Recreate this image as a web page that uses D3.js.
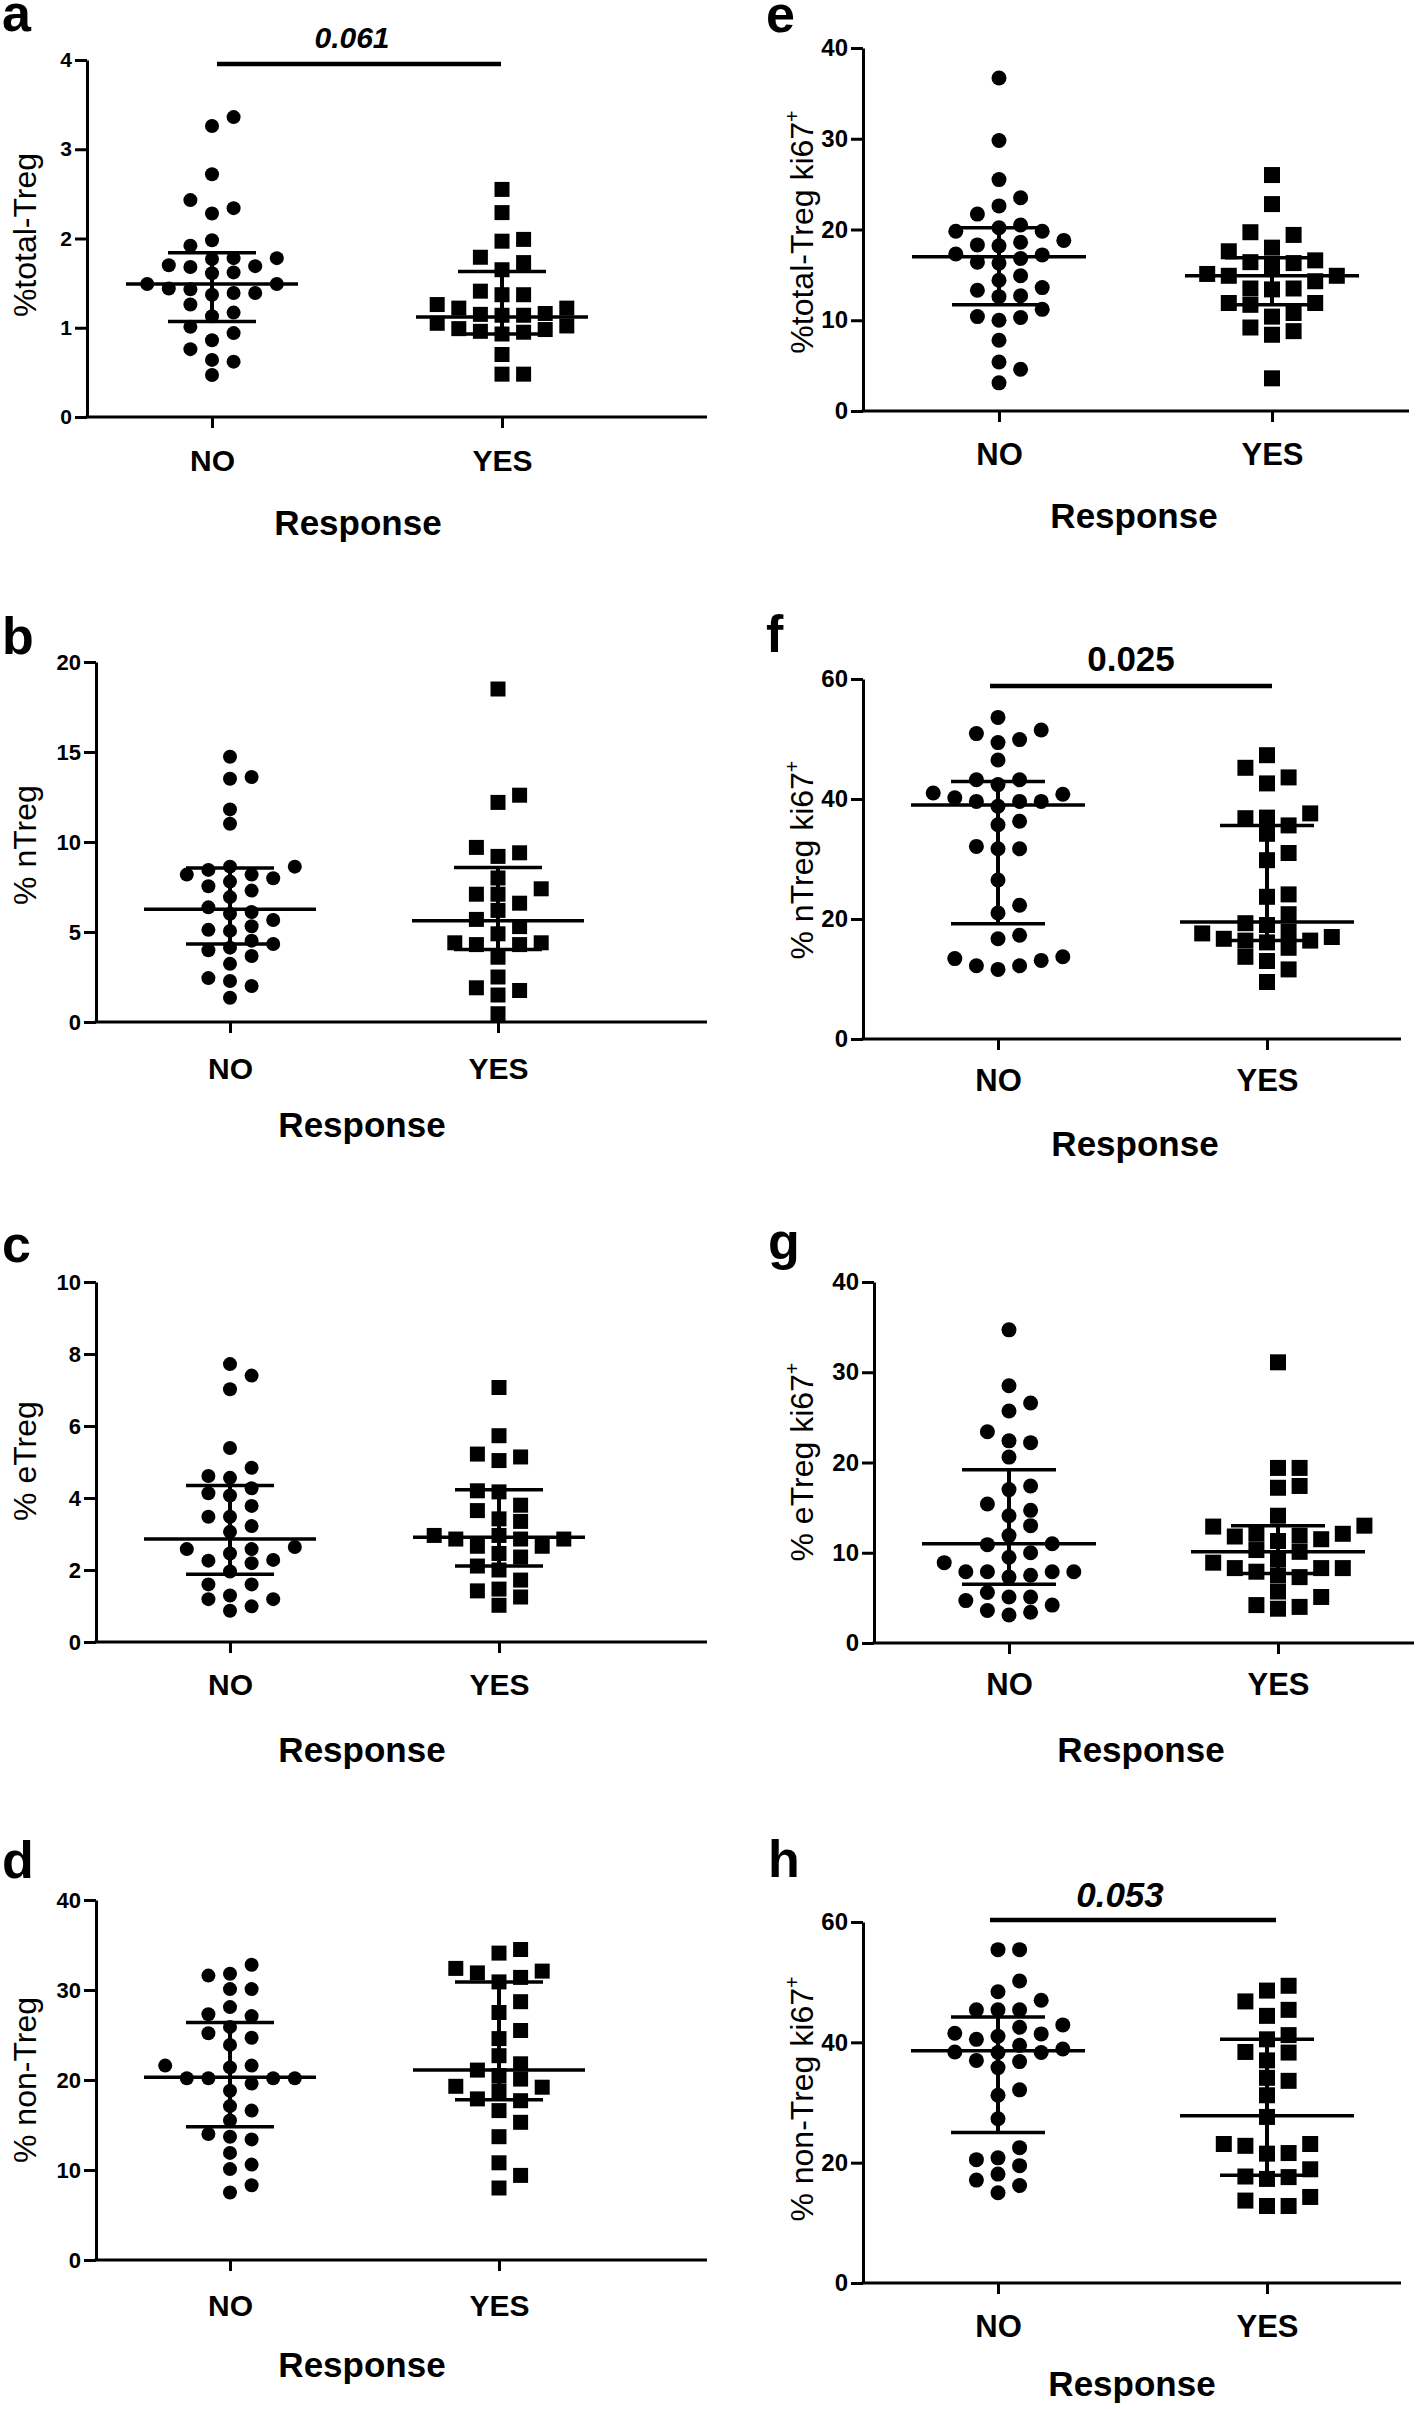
<!DOCTYPE html>
<html><head><meta charset="utf-8">
<script src="https://cdn.jsdelivr.net/npm/d3@7"></script>
<style>
body{margin:0;background:#fff}
svg{display:block}
text{font-family:"Liberation Sans",Arial,sans-serif;fill:#000}
</style>
</head><body>
<svg id="chart" width="1418" height="2409"></svg>
<script>
// ---------------- DATA ----------------
const categories = ["NO", "YES"];

// a: %total-Treg
const aNo  = [3.36,3.26,2.72,2.43,2.34,2.28,1.98,1.92,1.78,1.78,1.77,1.70,1.68,1.69,1.62,1.61,1.49,1.49,1.43,1.39,1.39,1.44,1.37,1.26,1.17,1.13,1.01,0.94,0.86,0.76,0.64,0.62,0.47];
const aYes = [2.55,2.29,1.99,1.97,1.79,1.73,1.65,1.41,1.37,1.37,1.26,1.22,1.22,1.16,1.15,1.14,1.14,1.05,1.02,0.99,0.98,0.96,0.95,0.93,0.70,0.48,0.48];
const aNoStats  = [1.07, 1.49, 1.84];   // Q1, median, Q3
const aYesStats = [0.93, 1.12, 1.63];
const aTicks = [0, 1, 2, 3, 4];

// b: % nTreg
const bNo  = [14.74,13.61,13.51,11.81,11.01,8.63,8.63,8.45,8.19,8.19,7.99,7.80,7.54,7.30,6.94,6.37,6.11,6.01,5.67,5.32,5.12,5.06,4.52,4.33,4.13,3.99,3.67,3.23,2.44,2.28,2.00,1.35];
const bYes = [18.5,12.6,12.2,9.7,9.4,9.2,8.0,7.4,7.1,7.1,6.6,6.2,5.7,5.3,4.9,4.4,4.4,4.3,4.3,3.6,2.5,1.9,1.75,1.5,0.46];
const bNoStats  = [4.33, 6.27, 8.55];
const bYesStats = [4.03, 5.62, 8.59];
const bTicks = [0, 5, 10, 15, 20];

// c: % eTreg
const cNo  = [7.72,7.40,7.02,5.39,4.84,4.61,4.56,4.27,4.13,4.07,3.78,3.48,3.48,3.22,3.06,2.64,2.58,2.58,2.46,2.28,2.26,2.19,1.96,1.60,1.60,1.29,1.19,1.19,0.99,0.87];
const cYes = [7.07,5.73,5.22,5.14,5.04,4.20,4.17,3.80,3.65,3.42,3.35,2.96,2.96,2.86,2.86,2.86,2.66,2.66,2.46,2.36,2.11,2.00,1.72,1.47,1.42,1.25,1.02];
const cNoStats  = [1.88, 2.86, 4.35];
const cYesStats = [2.11, 2.91, 4.23];
const cTicks = [0, 2, 4, 6, 8, 10];

// d: % non-Treg
const dNo  = [32.8,31.8,31.6,30.1,30.1,28.1,27.3,27.1,25.9,25.2,24.7,23.9,21.6,21.6,21.4,20.2,20.2,20.2,20.2,19.6,18.8,17.1,16.6,15.5,14.0,13.7,13.4,11.9,10.6,10.1,8.3,7.5];
const dYes = [34.5,34.1,32.4,32.1,31.9,31.4,30.9,28.7,27.5,25.5,24.6,22.7,21.8,21.1,20.5,20.1,19.3,19.2,18.8,17.9,17.7,16.6,15.3,13.7,10.8,9.4,8.0];
const dNoStats  = [14.8, 20.3, 26.4];
const dYesStats = [17.8, 21.1, 30.9];
const dTicks = [0, 10, 20, 30, 40];

// e: %total-Treg ki67+
const eNo  = [36.7,29.8,25.5,23.5,22.6,21.7,20.5,20.2,19.8,19.8,18.8,18.6,18.3,18.2,17.3,17.2,16.8,16.4,16.3,14.9,14.4,13.6,13.3,12.7,12.6,11.2,10.4,10.3,10.0,7.8,5.4,4.6,3.1];
const eYes = [26.0,22.8,19.7,19.4,18.0,17.6,16.6,16.4,16.3,15.9,15.1,14.9,14.9,14.3,13.5,13.5,13.4,11.9,11.9,11.7,10.8,10.4,9.2,8.8,8.4,3.6];
const eNoStats  = [11.7, 17.0, 20.2];
const eYesStats = [11.7, 14.9, 16.9];
const eTicks = [0, 10, 20, 30, 40];

// f: % nTreg ki67+
const fNo  = [53.6,51.5,50.9,49.9,49.4,46.5,43.2,43.2,42.4,41.0,40.8,40.2,39.6,39.6,39.6,38.8,36.3,35.7,32.1,31.7,31.7,26.5,22.3,21.0,17.3,16.7,13.7,13.4,13.1,12.2,12.2,11.6];
const fYes = [47.3,45.2,43.6,42.6,37.6,36.9,36.8,35.6,34.2,31.0,29.8,24.1,23.7,20.8,19.3,19.0,17.9,17.6,17.0,16.7,16.4,16.4,16.1,15.2,13.7,13.0,11.6,9.5];
const fNoStats  = [19.2, 39.0, 42.9];
const fYesStats = [16.4, 19.5, 35.6];
const fTicks = [0, 20, 40, 60];

// g: % eTreg ki67+
const gNo  = [34.7,28.5,26.6,25.7,23.4,22.4,22.2,20.6,17.4,17.0,15.4,14.7,14.1,13.0,11.9,11.0,10.9,10.0,9.5,8.9,7.9,7.9,7.9,7.9,7.5,7.3,5.6,5.1,5.1,4.7,4.2,3.6,3.4,3.1];
const gYes = [31.1,19.4,19.4,17.4,17.2,14.1,13.0,12.9,12.1,12.1,11.9,11.8,11.5,11.3,10.3,10.1,9.3,8.9,8.3,8.3,8.3,7.9,7.5,7.3,5.7,5.1,4.2,4.0,3.8];
const gNoStats  = [6.5, 11.0, 19.2];
const gYesStats = [7.7, 10.1, 13.0];
const gTicks = [0, 10, 20, 30, 40];

// h: % non-Treg ki67+
const hNo  = [55.4,55.4,50.2,48.4,47.0,45.4,45.4,45.4,42.9,42.5,41.5,41.4,41.0,40.5,39.5,38.9,38.4,38.3,38.3,37.0,36.8,35.8,32.1,31.2,27.3,22.5,20.8,20.5,19.5,18.1,17.1,16.2,15.0];
const hYes = [49.4,48.6,46.8,45.4,44.4,41.2,40.5,38.4,38.3,37.0,34.1,33.6,31.2,27.6,23.1,23.1,22.8,21.6,21.5,18.9,17.7,17.6,17.3,14.3,13.7,12.8,12.8];
const hNoStats  = [25.0, 38.6, 44.2];
const hYesStats = [17.9, 27.8, 40.5];
const hTicks = [0, 20, 40, 60];

const panelLetters = ["a","b","c","d","e","f","g","h"];
const yLabels = ["%total-Treg","% nTreg","% eTreg","% non-Treg","%total-Treg ki67","% nTreg ki67","% eTreg ki67","% non-Treg ki67"];
const yLabelSup = [false,false,false,false,true,true,true,true];
const pValues = ["0.061", null, null, null, null, "0.025", null, "0.053"];
const pItalic = [true, false, false, false, false, false, false, true];
const xTitle = "Response";

// ---------------- LAYOUT (positions, sizes) ----------------
const L = [
  {axisX:87, xEnd:707, yTop:60,   y0:417,  xNo:212, xYes:502, lx:2,   ly:31,   ylx:36,  yly:235,  catY:471,  rx:358,  ry:535,  tf:21, cf:30, yf:32, dia:14, sq:15, sig:{y:64,  x1:217, x2:501,  tx:352,  ty:48,  f:30}},
  {axisX:96, xEnd:707, yTop:662,  y0:1022, xNo:230, xYes:498, lx:2,   ly:654,  ylx:36,  yly:845,  catY:1079, rx:362,  ry:1137, tf:22, cf:30, yf:32, dia:14, sq:15},
  {axisX:96, xEnd:707, yTop:1282, y0:1642, xNo:230, xYes:499, lx:2,   ly:1262, ylx:36,  yly:1461, catY:1695, rx:362,  ry:1762, tf:22, cf:30, yf:32, dia:14, sq:15},
  {axisX:96, xEnd:707, yTop:1900, y0:2260, xNo:230, xYes:499, lx:2,   ly:1878, ylx:36,  yly:2080, catY:2316, rx:362,  ry:2377, tf:22, cf:30, yf:32, dia:14, sq:15},
  {axisX:863,xEnd:1409,yTop:48,   y0:411,  xNo:999, xYes:1272,lx:766, ly:32,   ylx:813, yly:232,  catY:465,  rx:1134, ry:528,  tf:24, cf:31, yf:32, dia:15, sq:16},
  {axisX:863,xEnd:1401,yTop:679,  y0:1039, xNo:998, xYes:1267,lx:766, ly:652,  ylx:813, yly:860,  catY:1091, rx:1135, ry:1156, tf:24, cf:31, yf:32, dia:15, sq:16, sig:{y:686, x1:990, x2:1272, tx:1131, ty:671, f:35}},
  {axisX:874,xEnd:1414,yTop:1282, y0:1643, xNo:1009,xYes:1278,lx:768, ly:1259, ylx:813, yly:1462, catY:1695, rx:1141, ry:1762, tf:24, cf:31, yf:32, dia:15, sq:16},
  {axisX:863,xEnd:1401,yTop:1922, y0:2283, xNo:998, xYes:1267,lx:768, ly:1877, ylx:813, yly:2099, catY:2337, rx:1132, ry:2396, tf:24, cf:31, yf:32, dia:15, sq:16, sig:{y:1920,x1:990, x2:1276, tx:1120, ty:1907, f:35}}
];

const groups = [
  [aNo,aYes,aNoStats,aYesStats,aTicks],
  [bNo,bYes,bNoStats,bYesStats,bTicks],
  [cNo,cYes,cNoStats,cYesStats,cTicks],
  [dNo,dYes,dNoStats,dYesStats,dTicks],
  [eNo,eYes,eNoStats,eYesStats,eTicks],
  [fNo,fYes,fNoStats,fYesStats,fTicks],
  [gNo,gYes,gNoStats,gYesStats,gTicks],
  [hNo,hYes,hNoStats,hYesStats,hTicks]
];

// ---------------- DRAW ----------------
const svg = d3.select("#chart");
const STEP = 21.6;

// column-scatter layout: ascending values, slots 0,+1,-1,+2,-2...
function swarm(values, yScale, D) {
  const sorted = values.slice().sort((a, b) => a - b);
  const placed = [];
  return sorted.map(v => {
    const py = yScale(v);
    let slot = 0;
    for (let i = 0; i < 60; i++) {
      const s = i === 0 ? 0 : (i % 2 === 1 ? (i + 1) / 2 : -i / 2);
      if (!placed.some(p => p.s === s && Math.abs(p.py - py) < D)) { slot = s; break; }
    }
    placed.push({ s: slot, py });
    return { v, s: slot };
  });
}

groups.forEach((G, i) => {
  const lay = L[i];
  const [noVals, yesVals, noStats, yesStats, ticks] = G;
  const g = svg.append("g");

  const y = d3.scaleLinear().domain([0, d3.max(ticks)]).range([lay.y0, lay.yTop]);
  const x = d3.scalePoint().domain(categories).range([lay.xNo, lay.xYes]);

  // y axis
  const ga = g.append("g").attr("transform", `translate(${lay.axisX},0)`)
    .call(d3.axisLeft(y).tickValues(ticks).tickSize(12).tickSizeOuter(0).tickPadding(3).tickFormat(d3.format("d")));
  ga.select(".domain").attr("stroke", "#000").attr("stroke-width", 3);
  ga.selectAll(".tick line").attr("stroke", "#000").attr("stroke-width", 3);
  ga.selectAll(".tick text").attr("fill", "#000")
    .style("font-size", lay.tf + "px").style("font-weight", "bold")
    .style("font-family", "'Liberation Sans', Arial, sans-serif");

  // x axis
  const gx = g.append("g").attr("transform", `translate(0,${lay.y0})`)
    .call(d3.axisBottom(x).tickSize(11).tickSizeOuter(0));
  gx.select(".domain").remove();
  gx.selectAll(".tick line").attr("stroke", "#000").attr("stroke-width", 3);
  gx.selectAll(".tick text").attr("fill", "#000").attr("y", lay.catY - lay.y0).attr("dy", 0)
    .style("font-size", lay.cf + "px").style("font-weight", "bold")
    .style("font-family", "'Liberation Sans', Arial, sans-serif");
  g.append("line").attr("x1", lay.axisX - 1.5).attr("x2", lay.xEnd)
    .attr("y1", lay.y0).attr("y2", lay.y0).attr("stroke", "#000").attr("stroke-width", 3);

  // points
  const noPts = swarm(noVals, y, lay.dia);
  const yesPts = swarm(yesVals, y, lay.sq);
  g.append("g").selectAll("path").data(noPts).join("path")
    .attr("d", d3.symbol(d3.symbolCircle, Math.PI * (lay.dia / 2) ** 2)())
    .attr("transform", d => `translate(${x("NO") + d.s * STEP},${y(d.v)})`)
    .attr("fill", "#000");
  g.append("g").selectAll("path").data(yesPts).join("path")
    .attr("d", d3.symbol(d3.symbolSquare, lay.sq * lay.sq)())
    .attr("transform", d => `translate(${x("YES") + d.s * STEP},${y(d.v)})`)
    .attr("fill", "#000");

  // median + IQR
  [["NO", noStats], ["YES", yesStats]].forEach(([cat, st]) => {
    const cx = x(cat);
    const [q1, med, q3] = st;
    const wMed = i < 4 ? 86 : 87, wQ = i < 4 ? 44 : 47;
    g.append("line").attr("x1", cx).attr("x2", cx).attr("y1", y(q1)).attr("y2", y(q3))
      .attr("stroke", "#000").attr("stroke-width", 4);
    g.append("line").attr("x1", cx - wMed).attr("x2", cx + wMed).attr("y1", y(med)).attr("y2", y(med))
      .attr("stroke", "#000").attr("stroke-width", 3.5);
    [q1, q3].forEach(q => g.append("line").attr("x1", cx - wQ).attr("x2", cx + wQ).attr("y1", y(q)).attr("y2", y(q))
      .attr("stroke", "#000").attr("stroke-width", 3.5));
  });

  // panel letter
  g.append("text").attr("x", lay.lx).attr("y", lay.ly).text(panelLetters[i])
    .style("font-size", "52px").style("font-weight", "bold");

  // y label
  const yl = g.append("text").attr("transform", `translate(${lay.ylx},${lay.yly}) rotate(-90)`)
    .attr("text-anchor", "middle").style("font-size", lay.yf + "px");
  yl.append("tspan").text(yLabels[i]);
  if (yLabelSup[i]) yl.append("tspan").attr("dy", -lay.yf * 0.45).style("font-size", (lay.yf * 0.62) + "px").text("+");

  // x title
  g.append("text").attr("x", lay.rx).attr("y", lay.ry).attr("text-anchor", "middle")
    .style("font-size", "35px").style("font-weight", "bold").text(xTitle);

  // significance
  if (pValues[i] && lay.sig) {
    const s = lay.sig;
    g.append("line").attr("x1", s.x1).attr("x2", s.x2).attr("y1", s.y).attr("y2", s.y)
      .attr("stroke", "#000").attr("stroke-width", 4.5);
    g.append("text").attr("x", s.tx).attr("y", s.ty).attr("text-anchor", "middle")
      .style("font-size", s.f + "px").style("font-weight", "bold")
      .style("font-style", pItalic[i] ? "italic" : "normal").text(pValues[i]);
  }
});
</script>
</body></html>
